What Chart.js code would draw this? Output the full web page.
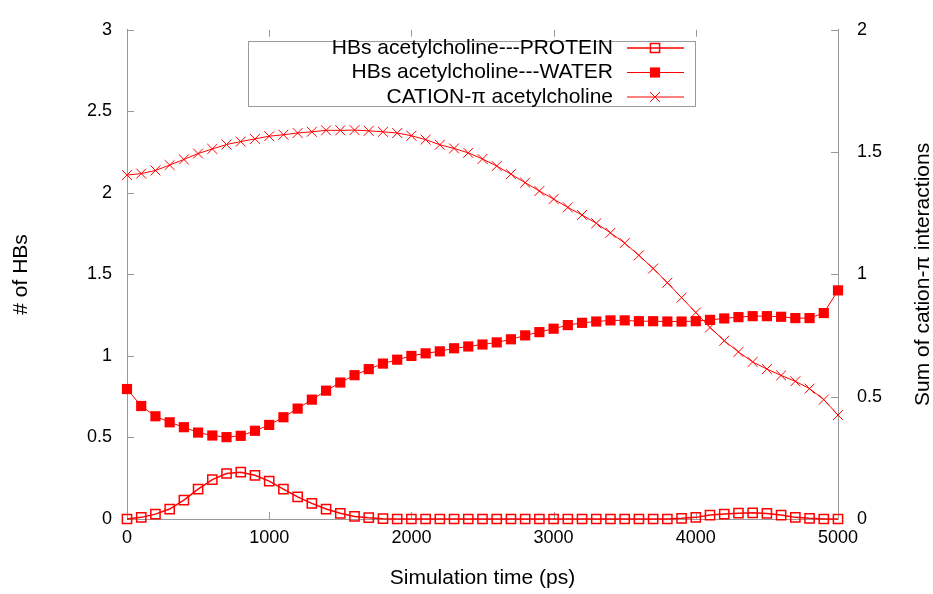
<!DOCTYPE html>
<html>
<head>
<meta charset="utf-8">
<script src="https://cdn.jsdelivr.net/npm/chart.js@4"></script>
<style>
  html, body { margin: 0; padding: 0; background: #fff; }
</style>
</head>
<body>
<canvas id="chart" width="933" height="594"></canvas>
<script>
// simulation time (ps)
const times = [
    0, 100, 200, 300, 400, 500, 600, 700, 800, 900,
    1000, 1100, 1200, 1300, 1400, 1500, 1600, 1700, 1800, 1900,
    2000, 2100, 2200, 2300, 2400, 2500, 2600, 2700, 2800, 2900,
    3000, 3100, 3200, 3300, 3400, 3500, 3600, 3700, 3800, 3900,
    4000, 4100, 4200, 4300, 4400, 4500, 4600, 4700, 4800, 4900,
    5000
];

// HBs acetylcholine---PROTEIN (left axis)
const hbProtein = [
    0, 0.01, 0.03, 0.061, 0.116, 0.183, 0.242, 0.279, 0.287, 0.268,
    0.232, 0.183, 0.136, 0.096, 0.061, 0.035, 0.016, 0.008, 0.002, 0,
    0, 0, 0, 0, 0, 0, 0, 0, 0, 0,
    0, 0, 0, 0, 0, 0, 0, 0, 0, 0.004,
    0.01, 0.024, 0.03, 0.036, 0.038, 0.034, 0.024, 0.01, 0.004, 0,
    0
];

// HBs acetylcholine---WATER (left axis)
const hbWater = [
    0.797, 0.693, 0.63, 0.593, 0.563, 0.53, 0.512, 0.502, 0.51, 0.541,
    0.577, 0.624, 0.677, 0.732, 0.787, 0.837, 0.882, 0.919, 0.953, 0.977,
    1.0, 1.016, 1.028, 1.047, 1.058, 1.07, 1.083, 1.102, 1.126, 1.146,
    1.167, 1.189, 1.203, 1.211, 1.218, 1.218, 1.213, 1.213, 1.211, 1.211,
    1.213, 1.221, 1.23, 1.238, 1.244, 1.244, 1.24, 1.232, 1.232, 1.263,
    1.402
];

// CATION-pi acetylcholine (right axis)
const cationPi = [
    1.406, 1.412, 1.425, 1.447, 1.47, 1.494, 1.513, 1.531, 1.543, 1.554,
    1.565, 1.571, 1.578, 1.583, 1.589, 1.589, 1.59, 1.587, 1.583, 1.578,
    1.567, 1.551, 1.53, 1.515, 1.497, 1.472, 1.443, 1.41, 1.375, 1.341,
    1.308, 1.274, 1.243, 1.209, 1.17, 1.128, 1.078, 1.024, 0.966, 0.905,
    0.844, 0.783, 0.729, 0.683, 0.642, 0.613, 0.587, 0.563, 0.533, 0.488,
    0.425
];

const seriesLabels = [
    "HBs acetylcholine---PROTEIN",
    "HBs acetylcholine---WATER",
    "CATION-\u03c0 acetylcholine"
];
const xTitle = "Simulation time (ps)";
const yTitle = "# of HBs";
const y1Title = "Sum of cation-\u03c0 interactions";

const FONT = "'Liberation Sans', Arial, Helvetica, sans-serif";
const RED = "#ff0000";
const FRAME = "#9a9a9a";

const toPoints = values => values.map((v, i) => ({ x: times[i], y: v }));

// gnuplot style: inward ticks, mirrored x ticks, axis titles and legend box
const gnuplotLook = {
    id: "gnuplotLook",
    beforeDatasetsDraw(chart) {
        const { ctx, chartArea: a, scales } = chart;
        const len = 7;
        ctx.save();
        ctx.strokeStyle = FRAME;
        ctx.lineWidth = 1;
        ctx.beginPath();
        for (const t of scales.x.ticks) {
            const px = Math.round(scales.x.getPixelForValue(t.value)) + 0.5;
            ctx.moveTo(px, a.bottom);
            ctx.lineTo(px, a.bottom - len);
            ctx.moveTo(px, a.top);
            ctx.lineTo(px, a.top + len);
        }
        for (const t of scales.y.ticks) {
            const py = Math.round(scales.y.getPixelForValue(t.value)) + 0.5;
            ctx.moveTo(a.left, py);
            ctx.lineTo(a.left + len, py);
        }
        for (const t of scales.y1.ticks) {
            const py = Math.round(scales.y1.getPixelForValue(t.value)) + 0.5;
            ctx.moveTo(a.right, py);
            ctx.lineTo(a.right - len, py);
        }
        ctx.stroke();
        ctx.restore();
    },
    afterDraw(chart) {
        const { ctx, chartArea: a } = chart;
        ctx.save();
        ctx.fillStyle = "#000";
        ctx.font = "21px " + FONT;
        ctx.textAlign = "center";
        ctx.textBaseline = "middle";

        ctx.fillText(xTitle, (a.left + a.right) / 2, 578);

        ctx.save();
        ctx.translate(21, (a.top + a.bottom) / 2);
        ctx.rotate(-Math.PI / 2);
        ctx.fillText(yTitle, 0, 0);
        ctx.restore();

        ctx.save();
        ctx.translate(923, (a.top + a.bottom) / 2);
        ctx.rotate(-Math.PI / 2);
        ctx.fillText(y1Title, 0, 0);
        ctx.restore();

        // legend box, text on the left and line sample on the right
        const box = { left: 248.5, top: 41.5, right: 695.5, bottom: 106.5 };
        ctx.strokeStyle = FRAME;
        ctx.lineWidth = 1;
        ctx.strokeRect(box.left, box.top, box.right - box.left, box.bottom - box.top);

        const rows = [48, 72.5, 97];
        const mx = 655;
        ctx.textAlign = "right";
        chart.data.datasets.forEach((ds, i) => {
            const y = rows[i];
            ctx.fillStyle = "#000";
            ctx.fillText(ds.label, 613, y);
            ctx.strokeStyle = ds.borderColor;
            ctx.lineWidth = ds.borderWidth;
            ctx.beginPath();
            ctx.moveTo(627, y);
            ctx.lineTo(684, y);
            ctx.stroke();

            ctx.fillStyle = ds.pointBackgroundColor;
            ctx.strokeStyle = ds.pointBorderColor;
            ctx.lineWidth = ds.pointBorderWidth;
            const s = Math.SQRT1_2 * ds.pointRadius;
            ctx.beginPath();
            if (ds.pointStyle === "rect") {
                ctx.rect(mx - s, y - s, 2 * s, 2 * s);
                ctx.fill();
                if (ds.pointBorderWidth) ctx.stroke();
            } else {
                ctx.moveTo(mx - s, y - s); ctx.lineTo(mx + s, y + s);
                ctx.moveTo(mx - s, y + s); ctx.lineTo(mx + s, y - s);
                ctx.stroke();
            }
        });
        ctx.restore();
    }
};

const tickFont = { family: FONT, size: 18 };
const plainNumber = v => String(v);

const chartConfig = {
    type: "line",
    data: {
        datasets: [
            {
                label: seriesLabels[0],
                data: toPoints(hbProtein),
                yAxisID: "y",
                borderColor: RED,
                borderWidth: 1.5,
                pointStyle: "rect",
                pointRadius: 6.5,
                pointBackgroundColor: "rgba(255,255,255,0)",
                pointBorderColor: RED,
                pointBorderWidth: 1.5,
                clip: false
            },
            {
                label: seriesLabels[1],
                data: toPoints(hbWater),
                yAxisID: "y",
                borderColor: RED,
                borderWidth: 1,
                pointStyle: "rect",
                pointRadius: 7.2,
                pointBackgroundColor: RED,
                pointBorderColor: RED,
                pointBorderWidth: 0,
                clip: false
            },
            {
                label: seriesLabels[2],
                data: toPoints(cationPi),
                yAxisID: "y1",
                borderColor: RED,
                borderWidth: 1,
                pointStyle: "crossRot",
                pointRadius: 7,
                pointBackgroundColor: RED,
                pointBorderColor: RED,
                pointBorderWidth: 1,
                clip: false
            }
        ]
    },
    options: {
        responsive: false,
        animation: false,
        devicePixelRatio: 1,
        layout: { padding: { top: 25, left: 0, right: 0, bottom: 0 } },
        plugins: { legend: { display: false }, tooltip: { enabled: false } },
        elements: { line: { tension: 0 } },
        scales: {
            x: {
                type: "linear",
                min: 0,
                max: 5000,
                grid: { display: false, drawTicks: false },
                border: { color: FRAME },
                ticks: {
                    stepSize: 1000,
                    autoSkip: false,
                    maxRotation: 0,
                    padding: 8,
                    color: "#000",
                    font: tickFont,
                    callback: plainNumber
                },
                afterFit: scale => { scale.height = 75; }
            },
            y: {
                position: "left",
                min: 0,
                max: 3,
                grid: { display: false, drawTicks: false },
                border: { color: FRAME },
                ticks: { stepSize: 0.5, padding: 15, color: "#000", font: tickFont, callback: plainNumber },
                afterFit: scale => { scale.width = 127; }
            },
            y1: {
                position: "right",
                min: 0,
                max: 2,
                grid: { display: false, drawTicks: false },
                border: { color: FRAME },
                ticks: { stepSize: 0.5, padding: 19, color: "#000", font: tickFont, callback: plainNumber },
                afterFit: scale => { scale.width = 95; }
            }
        }
    },
    plugins: [gnuplotLook]
};

const chart = new Chart(document.getElementById("chart").getContext("2d"), chartConfig);
</script>
</body>
</html>
